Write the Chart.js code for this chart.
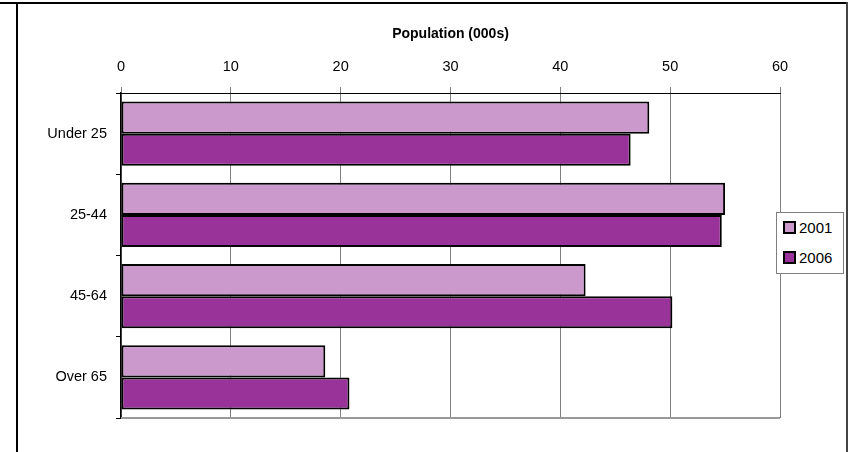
<!DOCTYPE html>
<html>
<head>
<meta charset="utf-8">
<script src="https://cdn.jsdelivr.net/npm/chart.js@4"></script>
<style>
  html, body { margin: 0; padding: 0; background: #fff; }
  #wrap { position: relative; width: 854px; height: 452px; overflow: hidden; }
  #chart { position: absolute; left: 0; top: 0; }
  #topLine { position: absolute; left: 0; top: 2px; width: 848px; height: 2px; background: #000; }
  #leftLine { position: absolute; left: 16px; top: 2px; width: 2px; height: 460px; background: #000; }
  #rightLine { position: absolute; left: 846px; top: 2px; width: 2px; height: 460px; background: #444; }
  #legend {
    position: absolute; left: 776px; top: 212px; width: 66px; height: 60px;
    border: 1px solid #808080; background: #fff;
    font-family: "Liberation Sans", Arial, sans-serif;
    font-size: 15px; color: #000;
  }
  .item { position: absolute; left: 6px; height: 20px; line-height: 20px; white-space: nowrap; }
  .swatch { display: inline-block; width: 9px; height: 9px; border: 2px solid #000; vertical-align: -1px; margin-right: 3px; }
</style>
</head>
<body>
<div id="wrap">
  <canvas id="chart" width="854" height="452"></canvas>
  <div id="topLine"></div>
  <div id="leftLine"></div>
  <div id="rightLine"></div>
  <div id="legend"></div>
</div>
<script>
/* ================= DATA ================= */
const categories = ["Under 25", "25-44", "45-64", "Over 65"];
const seriesNames = ["2001", "2006"];
const values2001 = [48.1, 55.0, 42.3, 18.6];
const values2006 = [46.4, 54.7, 50.2, 20.8];
const seriesColors = ["#cc99cc", "#993399"];
const axisTitle = "Population (000s)";
const xMin = 0, xMax = 60, xStep = 10;

const FONT = "'Liberation Sans', Arial, sans-serif";

/* ----- bottom edge of the plot area ----- */
const bottomLine = {
  id: "bottomLine",
  afterDatasetsDraw(c) {
    const a = c.chartArea, g = c.ctx;
    g.save();
    g.strokeStyle = "#999";
    g.lineWidth = 2;
    g.beginPath();
    g.moveTo(a.left, a.bottom);
    g.lineTo(a.right, a.bottom);
    g.stroke();
    g.restore();
  }
};

const chart = new Chart(document.getElementById("chart").getContext("2d"), {
  type: "bar",
  data: {
    labels: categories,
    datasets: [values2001, values2006].map((vals, i) => ({
      label: seriesNames[i],
      data: vals,
      backgroundColor: seriesColors[i],
      borderColor: "#000",
      borderWidth: 2,
      borderSkipped: false,
      categoryPercentage: 0.79,
      barPercentage: 1.0
    }))
  },
  options: {
    indexAxis: "y",
    responsive: false,
    animation: false,
    layout: { padding: { left: 0, top: 0, right: 74, bottom: 34 } },
    plugins: {
      legend: { display: false },
      tooltip: { enabled: false }
    },
    scales: {
      x: {
        position: "top",
        min: xMin,
        max: xMax,
        afterFit(s) { s.height = 93; },
        ticks: {
          stepSize: xStep,
          color: "#000",
          padding: 11,
          font: { family: FONT, size: 14.5 }
        },
        grid: { color: "#808080", lineWidth: 1, tickLength: 6 },
        border: { color: "#000", width: 1 },
        title: {
          display: true,
          text: axisTitle,
          color: "#000",
          padding: { top: 26, bottom: 0 },
          font: { family: FONT, size: 14, weight: "bold" }
        }
      },
      y: {
        afterFit(s) { s.width = 121; },
        ticks: {
          color: "#000",
          padding: 9,
          font: { family: FONT, size: 14.5 }
        },
        grid: { drawOnChartArea: false, color: "#000", tickLength: 5, offset: true },
        border: { color: "#000", width: 1.5 }
      }
    }
  },
  plugins: [bottomLine]
});

/* ----- legend box ----- */
const legend = document.getElementById("legend");
seriesNames.forEach((name, i) => {
  const row = document.createElement("div");
  row.className = "item";
  row.style.top = (5 + i * 30) + "px";
  row.innerHTML = '<span class="swatch" style="background:' + seriesColors[i] + '"></span>' + name;
  legend.appendChild(row);
});
</script>
</body>
</html>
